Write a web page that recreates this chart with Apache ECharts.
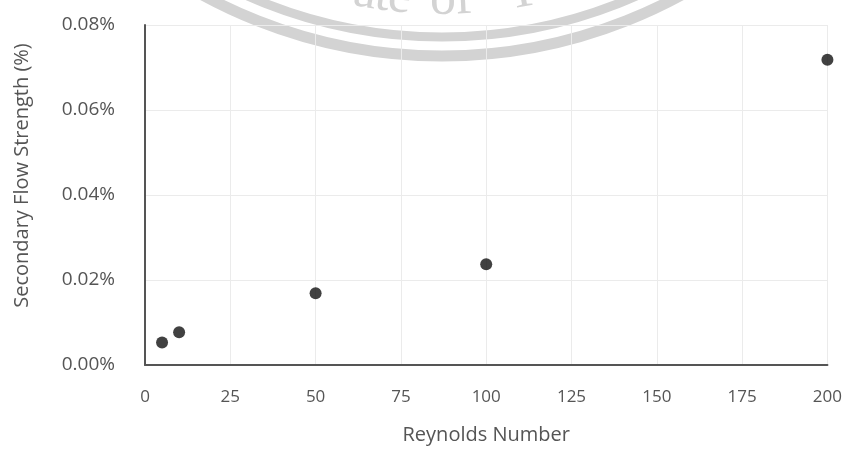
<!DOCTYPE html>
<html>
<head>
<meta charset="utf-8">
<script src="https://cdn.jsdelivr.net/npm/echarts@6/dist/echarts.min.js"></script>
<style>
  html, body { margin: 0; padding: 0; background: #ffffff; }
  #chart { width: 845px; height: 451px; }
</style>
</head>
<body>
<div id="chart"></div>
<script>
// Reynolds number vs. secondary flow strength (percent)
const reynolds = [5, 10, 50, 100, 200];
const flowStrength = [0.0053, 0.0077, 0.0169, 0.0237, 0.0718];
const xTicks = [0, 25, 50, 75, 100, 125, 150, 175, 200];
const yTicks = [0, 0.02, 0.04, 0.06, 0.08];

const points = reynolds.map((r, i) => [r, flowStrength[i]]);
const font = '"Open Sans", "Noto Sans", sans-serif';
const labelColor = '#555555';

// Faint seal stamp at the top of the page: two concentric rings with lettering
const sealCx = 442, sealCy = -444;
const sealColor = '#d3d3d3';
const sealLetters = [['a', 361], ['t', 379], ['e', 397], ['o', 443], ['f', 465], ['T', 527]];
const sealText = sealLetters.map(([ch, px]) => {
  const R = 470;
  const th = Math.asin((px - sealCx) / R);
  return {
    type: 'text',
    silent: true,
    x: sealCx + R * Math.sin(th),
    y: sealCy + R * Math.cos(th),
    rotation: th,
    style: {
      text: ch,
      font: '52px "Liberation Serif", "DejaVu Serif", serif',
      fill: sealColor,
      align: 'center',
      verticalAlign: 'bottom'
    }
  };
});
const sealRings = [
  { r: 500, w: 11 },
  { r: 481, w: 9 }
].map(ring => ({
  type: 'circle',
  silent: true,
  shape: { cx: sealCx, cy: sealCy, r: ring.r },
  style: { fill: 'none', stroke: sealColor, lineWidth: ring.w }
}));

const chart = echarts.init(document.getElementById('chart'));
chart.setOption({
  backgroundColor: '#ffffff',
  animation: false,
  grid: { left: 145, right: 16, top: 25, bottom: 86, containLabel: false },
  xAxis: {
    type: 'value',
    min: xTicks[0],
    max: xTicks[xTicks.length - 1],
    interval: xTicks[1] - xTicks[0],
    name: 'Reynolds Number',
    nameLocation: 'middle',
    nameGap: 60,
    nameTextStyle: { color: labelColor, fontFamily: font, fontSize: 20 },
    axisLine: { show: true, lineStyle: { color: '#555555', width: 2 } },
    axisTick: { show: false },
    axisLabel: { color: labelColor, fontFamily: font, fontSize: 17, margin: 24 },
    splitLine: { show: true, lineStyle: { color: '#ebebeb', width: 1 } }
  },
  yAxis: {
    type: 'value',
    min: yTicks[0],
    max: yTicks[yTicks.length - 1],
    interval: yTicks[1] - yTicks[0],
    name: 'Secondary Flow Strength (%)',
    nameLocation: 'middle',
    nameGap: 113,
    nameRotate: 90,
    nameTextStyle: { color: labelColor, fontFamily: font, fontSize: 20, padding: [0, 0, 0, 39] },
    axisLine: { show: true, lineStyle: { color: '#555555', width: 2 } },
    axisTick: { show: false },
    axisLabel: {
      color: labelColor, fontFamily: font, fontSize: 19, margin: 30,
      padding: [0, 0, 4, 0],
      formatter: v => v.toFixed(2) + '%'
    },
    splitLine: { show: true, lineStyle: { color: '#ebebeb', width: 1 } }
  },
  graphic: { elements: sealRings.concat(sealText) },
  series: [{
    type: 'scatter',
    data: points,
    symbol: 'circle',
    symbolSize: 12,
    itemStyle: { color: '#111111' },
    z: 5
  }]
});
</script>
</body>
</html>
